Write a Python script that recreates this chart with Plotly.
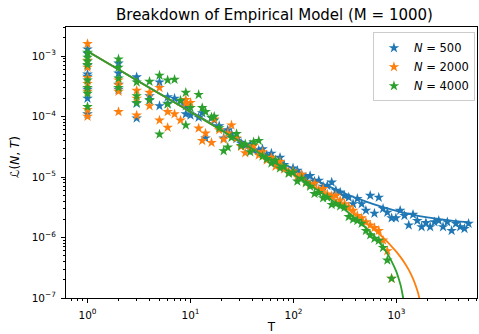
import plotly.graph_objects as go

# ---------------- data ----------------
T_grid = [1, 1, 1, 1, 1, 1, 1, 1, 2, 2, 2, 2, 3, 3, 3, 4, 4, 5, 5, 6, 6,
          7, 8, 9, 9, 10, 12, 13, 14, 16, 17, 19, 21, 23, 25, 28, 31, 34, 38, 41, 46,
          50, 55, 61, 67, 74, 81, 90, 99, 109, 120, 132, 145, 160, 176, 194, 213, 235,
          258, 284, 313, 344, 379, 417, 459, 505, 556, 611, 673, 741, 815, 897,
          987, 1086, 1196, 1316, 1448, 1594, 1754, 1931, 2125, 2339, 2574, 2833,
          3118, 3432, 3777, 4157, 4575, 5012]

L_500 = [1.3e-3, 1.1e-3, 7e-4, 5e-4, 4.6e-4, 2.8e-4, 2.0e-4, 1.1e-4,
         7.6e-4, 5.2e-4, 3.4e-4, 2.8e-4,
         4.5e-4, 1.65e-4, 9.4e-5,
         2.2e-4, 1.85e-4,
         3.7e-4, 1.5e-4,
         1.65e-4, 2.1e-4,
         2.0e-4, 1.8e-4, 1.1e-4, 1.5e-4, 1.05e-4, 9.7e-5, 1.15e-4, 4.4e-5, 9.5e-5, 8.7e-5,
         7.0e-5, 4.4e-5, 6.0e-5, 5.2e-5, 4.3e-5, 3.6e-5, 3.3e-5, 3.4e-5, 2.76e-5, 2.76e-5,
         2.9e-5, 2.3e-5, 2.46e-5, 1.75e-5, 2.1e-5, 1.6e-5, 1.19e-5, 1.4e-5, 1.28e-5, 1.1e-5,
         9.8e-6, 1.05e-5, 8.5e-6, 8.8e-6, 7.0e-6, 7.2e-6, 8.2e-6, 6.0e-6, 5.6e-6, 4.9e-6,
         4.6e-6, 3.6e-6, 4.4e-6, 3.6e-6, 2.8e-6, 4.95e-6, 2.5e-6, 4.6e-6, 3.0e-6, 2.6e-6,
         2.1e-6, 2.1e-6, 2.8e-6, 2.3e-6, 1.6e-6, 2.4e-6, 1.9e-6, 1.5e-6, 1.75e-6, 1.5e-6,
         1.8e-6, 1.9e-6, 1.5e-6, 1.8e-6, 1.3e-6, 1.7e-6, 1.5e-6, 1.4e-6, 1.7e-6]

L_2000 = [1.6e-3, 8.5e-4, 6.5e-4, 4.4e-4, 3.5e-4, 2.6e-4, 1.3e-4, 1.0e-4,
          4.0e-4, 3.3e-4, 2.6e-4, 1.2e-4,
          2.7e-4, 2.0e-4, 1.05e-4,
          2.5e-4, 1.5e-4,
          3.0e-4, 8.7e-5,
          1.2e-4, 6.6e-5,
          1.1e-4, 8.7e-5, 1.65e-4, 1.9e-4, 1.7e-4, 6.4e-5, 4.0e-5, 5.3e-5, 3.7e-5, 9.0e-5,
          6.0e-5, 4.2e-5, 5.3e-5, 7.2e-5, 4.4e-5, 3.2e-5, 2.5e-5, 2.9e-5, 3.3e-5, 2.3e-5,
          2.6e-5, 1.9e-5, 2.1e-5, 1.5e-5, 1.8e-5, 1.35e-5, 1.2e-5, 1.25e-5, 1.0e-5, 1.1e-5,
          8.3e-6, 7.5e-6, 7.8e-6, 6.2e-6, 6.4e-6, 5.2e-6, 4.9e-6, 4.95e-6, 4.1e-6, 3.6e-6,
          3.2e-6, 2.8e-6, 2.3e-6, 2.1e-6, 1.8e-6, 1.6e-6, 1.45e-6, 1.3e-6, 9e-7, 6e-7, 2.1e-7]

L_4000 = [1.15e-3, 9.5e-4, 8.2e-4, 7.2e-4, 4.0e-4, 3.0e-4, 2.4e-4, 1.45e-4,
          8.9e-4, 6.5e-4, 4.3e-4, 3.0e-4,
          3.7e-4, 2.2e-4, 1.7e-4,
          3.8e-4, 1.9e-4,
          4.8e-4, 5.1e-5,
          4.0e-4, 1.6e-4,
          4.1e-4, 1.85e-4, 7.2e-5, 2.5e-4, 1.4e-4, 2.3e-4, 1.4e-4, 1.2e-4, 9.7e-5, 1.0e-4,
          6.5e-5, 2.7e-5, 3.1e-5, 4.5e-5, 5.2e-5, 3.3e-5, 3.5e-5, 2.6e-5, 3.8e-5, 4.0e-5,
          2.2e-5, 2.0e-5, 1.7e-5, 1.9e-5, 1.4e-5, 1.5e-5, 1.15e-5, 1.2e-5, 8.5e-6, 9.5e-6,
          8.0e-6, 7.0e-6, 5.3e-6, 5.5e-6, 4.5e-6, 4.6e-6, 3.5e-6, 3.6e-6, 3.3e-6, 3.15e-6,
          2.2e-6, 2.0e-6, 1.9e-6, 1.7e-6, 1.3e-6, 1.1e-6, 9.6e-7, 8.9e-7, 6.8e-7, 4.2e-7, 2.1e-7]

# fitted curves
T_fit_500 = [1, 2, 3, 5, 7, 10, 15, 20, 30, 50, 70, 100, 150, 200, 300, 500, 700,
             1000, 1500, 2000, 3000, 4000, 5000]
L_fit_500 = [1.2e-3, 6.0e-4, 4.0e-4, 2.4e-4, 1.73e-4, 1.22e-4, 8.15e-5, 6.15e-5, 4.15e-5,
             2.55e-5, 1.87e-5, 1.36e-5, 9.55e-6, 7.55e-6, 5.55e-6, 3.95e-6, 3.26e-6,
             2.75e-6, 2.35e-6, 2.15e-6, 1.95e-6, 1.85e-6, 1.79e-6]

T_fit_2000 = [1, 2, 3, 5, 7, 10, 15, 20, 30, 50, 70, 100, 150, 200, 300, 400, 500, 600,
              700, 800, 900, 1000, 1100, 1200, 1300, 1400, 1500, 1600, 1700, 1800]
L_fit_2000 = [1.199e-3, 5.99e-4, 3.99e-4, 2.39e-4, 1.71e-4, 1.19e-4, 7.94e-5, 5.94e-5,
              3.94e-5, 2.34e-5, 1.65e-5, 1.14e-5, 7.38e-6, 5.38e-6, 3.38e-6, 2.38e-6,
              1.78e-6, 1.38e-6, 1.09e-6, 8.8e-7, 7.1e-7, 5.8e-7, 4.7e-7, 3.8e-7, 3.03e-7,
              2.37e-7, 1.8e-7, 1.3e-7, 8.6e-8, 4.7e-8]

T_fit_4000 = [1, 2, 3, 5, 7, 10, 15, 20, 30, 50, 70, 100, 150, 200, 300, 400, 500, 600,
              700, 800, 900, 1000, 1050, 1100, 1150, 1200, 1250]
L_fit_4000 = [1.199e-3, 5.99e-4, 3.99e-4, 2.39e-4, 1.705e-4, 1.19e-4, 7.91e-5, 5.91e-5,
              3.91e-5, 2.31e-5, 1.62e-5, 1.107e-5, 7.07e-6, 5.07e-6, 3.07e-6, 2.07e-6,
              1.47e-6, 1.07e-6, 7.8e-7, 5.7e-7, 4.0e-7, 2.7e-7, 2.1e-7, 1.6e-7, 1.1e-7,
              7e-8, 3e-8]

series_names = ["<i>N</i> = 500", "<i>N</i> = 2000", "<i>N</i> = 4000"]
colors = ["#1f77b4", "#ff7f0e", "#2ca02c"]

x_tick_vals = [1, 10, 100, 1000]
x_tick_text = ["10<sup>0</sup>", "10<sup>1</sup>", "10<sup>2</sup>", "10<sup>3</sup>"]
y_tick_vals = [1e-7, 1e-6, 1e-5, 1e-4, 1e-3]
y_tick_text = ["10<sup>−7</sup>", "10<sup>−6</sup>", "10<sup>−5</sup>", "10<sup>−4</sup>", "10<sup>−3</sup>"]

# --------------- figure ---------------
fig = go.Figure()
scatter_data = [L_500, L_2000, L_4000]
fits = [(T_fit_500, L_fit_500), (T_fit_2000, L_fit_2000), (T_fit_4000, L_fit_4000)]
for name, col, L, (tf, lf) in zip(series_names, colors, scatter_data, fits):
    fig.add_trace(go.Scatter(
        x=T_grid[:len(L)], y=L, mode="markers", name=name,
        marker=dict(symbol="star", size=8, color=col, line=dict(width=0)),
    ))
    fig.add_trace(go.Scatter(
        x=tf, y=lf, mode="lines", showlegend=False,
        line=dict(color=col, width=1.8, shape="spline", smoothing=0.6),
    ))

minor_x = [m * 10 ** e for e in range(-1, 4) for m in range(2, 10)]
minor_y = [m * 10.0 ** e for e in range(-7, -2) for m in range(2, 10)]

axis_common = dict(
    showline=True, linecolor="black", linewidth=1, mirror=True,
    ticks="outside", ticklen=4, tickwidth=1, tickcolor="black",
    showgrid=False, zeroline=False, ticklabelstandoff=3,
    tickfont=dict(family="DejaVu Sans", size=10.5, color="black"),
)

fig.update_xaxes(
    type="log", range=[-0.209, 3.782],
    tickvals=x_tick_vals, ticktext=x_tick_text,
    minor=dict(tickvals=minor_x, ticks="outside", ticklen=2, tickcolor="black", showgrid=False),
    title=dict(text="T", font=dict(family="DejaVu Sans", size=12, color="black"), standoff=6),
    **axis_common,
)
fig.update_yaxes(
    type="log", range=[-7, -2.519],
    tickvals=y_tick_vals, ticktext=y_tick_text,
    minor=dict(tickvals=minor_y, ticks="outside", ticklen=2, tickcolor="black", showgrid=False),
    **axis_common,
)

fig.add_annotation(
    text="ℒ(<i>N</i>, <i>T</i>)", textangle=-90, showarrow=False,
    xref="paper", yref="paper", x=-0.124, y=0.52, xanchor="center", yanchor="middle",
    font=dict(family="DejaVu Sans", size=12, color="black"),
)

fig.update_layout(
    width=479, height=334,
    margin=dict(l=66, r=2, t=27, b=36, autoexpand=False),
    paper_bgcolor="white", plot_bgcolor="white",
    title=dict(text="Breakdown of Empirical Model (M = 1000)",
               font=dict(family="DejaVu Sans", size=15, color="black"),
               x=0.573, xanchor="center", y=0.955, yanchor="middle"),
    legend=dict(x=0.995, y=0.98, xanchor="right", yanchor="top",
                bgcolor="rgba(255,255,255,0.8)", bordercolor="#cccccc", borderwidth=1,
                font=dict(family="DejaVu Sans", size=11.5, color="black"),
                itemwidth=30, tracegroupgap=0),
    showlegend=True,
)

fig.write_html("out.html", config={"displayModeBar": False},
               post_script="document.body.style.margin='0';document.body.style.padding='0';")
